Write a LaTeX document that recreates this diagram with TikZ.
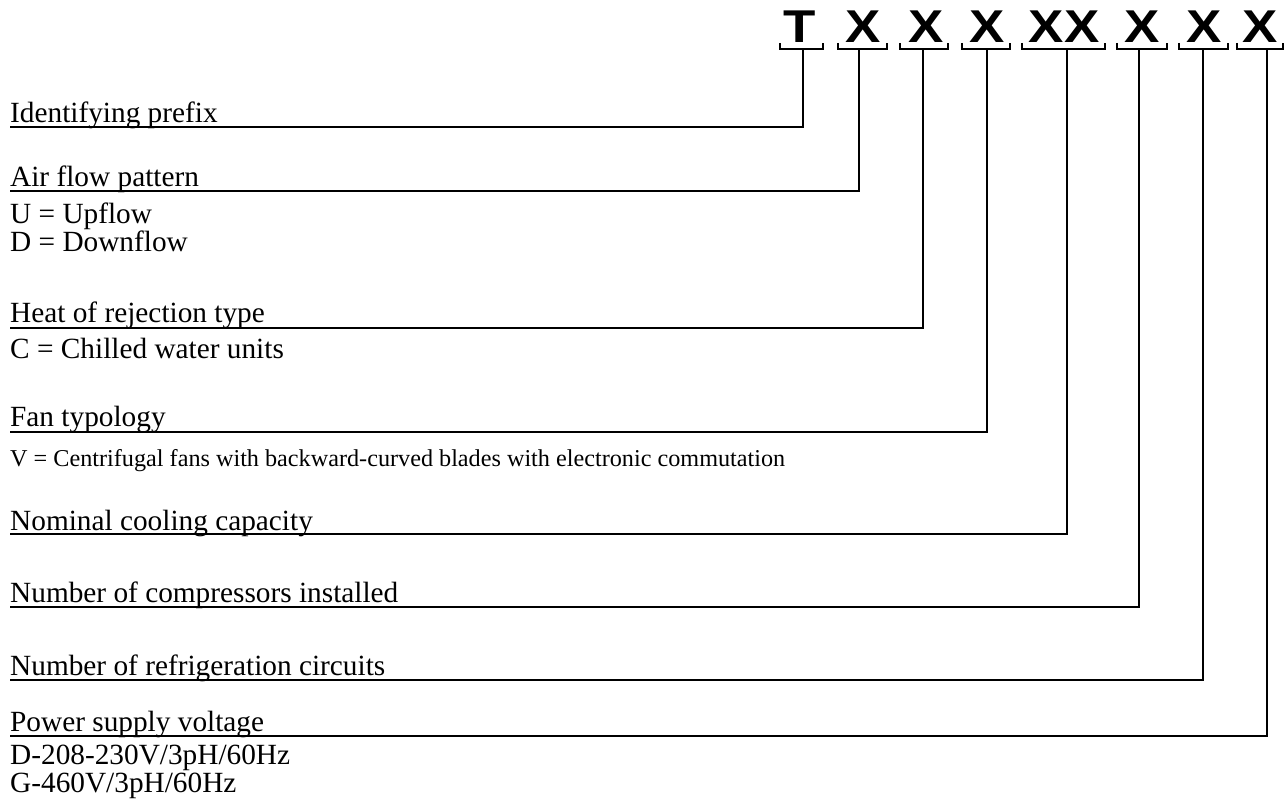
\documentclass[tikz,border=0pt]{standalone}
\usepackage{fontspec}
\setmainfont{Liberation Serif}
\newfontfamily\hdrfont{Liberation Sans}
\begin{document}
\begin{tikzpicture}[x=1pt,y=-1pt,
  lbl/.style={anchor=base west,inner sep=0pt,font=\fontsize{29.3}{28}\selectfont},
  small/.style={anchor=base west,inner sep=0pt,font=\fontsize{24.2}{26}\selectfont},
  code/.style={anchor=base,inner sep=0pt,xscale=1.15,font=\hdrfont\bfseries\fontsize{46}{46}\selectfont},
  brk/.style={line width=2.2pt},
  conn/.style={line width=2.2pt}]
\useasboundingbox (0,0) rectangle (1286,810);
% code letters
\node[code] (c1) at (800,43) {T};
\node[code] (c2) at (863,43) {X};
\node[code] (c3) at (926,43) {X};
\node[code] (c4) at (987,43) {X};
\node[code] (c5) at (1064,43) {XX};
\node[code] (c6) at (1142,43) {X};
\node[code] (c7) at (1204,43) {X};
\node[code] (c8) at (1260,43) {X};
% brackets
\draw[brk] (780,43) -- (780,49) -- (823,49) -- (823,43);
\draw[brk] (838,43) -- (838,49) -- (887,49) -- (887,43);
\draw[brk] (900,43) -- (900,49) -- (948,49) -- (948,43);
\draw[brk] (962,43) -- (962,49) -- (1010,49) -- (1010,43);
\draw[brk] (1022,43) -- (1022,49) -- (1105,49) -- (1105,43);
\draw[brk] (1117,43) -- (1117,49) -- (1167,49) -- (1167,43);
\draw[brk] (1179,43) -- (1179,49) -- (1228,49) -- (1228,43);
\draw[brk] (1237,43) -- (1237,49) -- (1283,49) -- (1283,43);
\coordinate (b1) at (803,49);
\coordinate (b2) at (859,49);
\coordinate (b3) at (923,49);
\coordinate (b4) at (987,49);
\coordinate (b5) at (1067,49);
\coordinate (b6) at (1139,49);
\coordinate (b7) at (1203,49);
\coordinate (b8) at (1267,49);
% line ends
\coordinate (e1) at (10,127);
\coordinate (e2) at (10,191);
\coordinate (e3) at (10,328);
\coordinate (e4) at (10,432);
\coordinate (e5) at (10,534);
\coordinate (e6) at (10,607);
\coordinate (e7) at (10,680);
\coordinate (e8) at (10,736);
% labels
\node[lbl] (l1) at (10,123) {Identifying prefix};
\node[lbl] (l2) at (10,187) {Air flow pattern};
\node[lbl] (l3) at (10,323) {Heat of rejection type};
\node[lbl] (l4) at (10,427) {Fan typology};
\node[lbl] (l5) at (10,530) {Nominal cooling capacity};
\node[lbl] (l6) at (10,602) {Number of compressors installed};
\node[lbl] (l7) at (10,675) {Number of refrigeration circuits};
\node[lbl] (l8) at (10,731) {Power supply voltage};
% sub texts
\node[lbl] (s2a) at (10,224) {U = Upflow};
\node[lbl] (s2b) at (10,252) {D = Downflow};
\node[lbl] (s3) at (10,359) {C = Chilled water units};
\node[small] (s4) at (10,466) {V = Centrifugal fans with backward-curved blades with electronic commutation};
\node[lbl] (s8a) at (10,764) {D-208-230V/3pH/60Hz};
\node[lbl] (s8b) at (10,792) {G-460V/3pH/60Hz};
% connectors
\foreach \i in {1,...,8} {\draw[conn] (b\i) |- (e\i);}
\end{tikzpicture}
\end{document}
